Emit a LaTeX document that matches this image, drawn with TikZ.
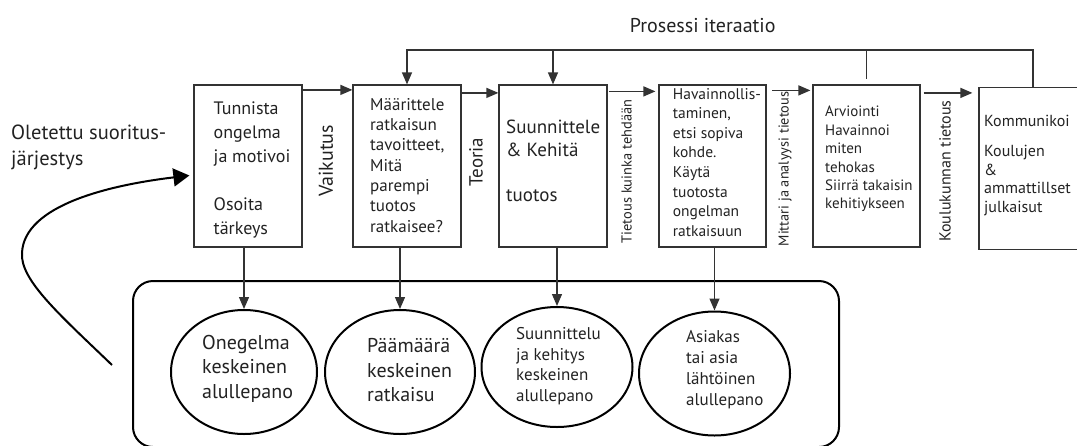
\documentclass[tikz,border=0pt]{standalone}
\usepackage{fontspec}
\setmainfont{PT Sans}
\usetikzlibrary{arrows.meta,shapes.geometric,calc}
\definecolor{ink}{HTML}{222222}
\definecolor{boxgray}{HTML}{333333}

\begin{document}
\begin{tikzpicture}[x=1pt,y=-1pt,
  box/.style={draw=boxgray, line width=1.2pt, minimum width=108pt, minimum height=162pt, inner sep=0pt},
  oval/.style={draw=black, ellipse, line width=2pt, inner sep=0pt},
  group/.style={draw=black, line width=2pt, rounded corners=20pt, inner sep=0pt},
  txt/.style={anchor=north west, align=left, inner sep=0pt, text=ink},
  lbl/.style={inner sep=0pt, text=ink},
  conn/.style={draw=boxgray, line width=1.3pt},
  arr/.style={conn, -{Triangle[length=12pt,width=10pt]}},
  bigarr/.style={draw=black, line width=2pt, -{Triangle[length=16pt,width=18pt]}}
]
\useasboundingbox (0,0) rectangle (1077,445);
\clip (0,0) rectangle (1077,445);

% grouping frame around the ellipses
\node[group, minimum width=706pt, minimum height=166pt] (grp) at (486,364) {};

% process steps
\node[box] (b1) at (248,166) {};
\node[box] (b2) at (407,166) {};
\node[box] (b3) at (553,166) {};
\node[box, minimum width=107pt] (b4) at (712.5,166) {};
\node[box, minimum width=107pt] (b5) at (866.5,166) {};
\node[box] (b6) at (1033,168.5) {};

\node[txt, font={\fontsize{18pt}{24pt}\selectfont}] (t1) at (213.5,101.5)
  {Tunnista\\ongelma\\ja motivoi\\[24pt]Osoita\\tärkeys};
\node[txt, font={\fontsize{17pt}{20.3pt}\selectfont}] (t2) at (370,98)
  {Määrittele\\ratkaisun\\tavoitteet,\\Mitä\\parempi\\tuotos\\ratkaisee?};
\node[txt, font={\fontsize{19pt}{22.5pt}\selectfont}] (t3) at (506,120)
  {Suunnittele\\\& Kehitä\\[22.5pt]tuotos};
\node[txt, font={\fontsize{15.5pt}{19.6pt}\selectfont}] (t4) at (672.7,88)
  {Havainnollis-\\taminen,\\etsi sopiva\\kohde.\\Käytä\\tuotosta\\ongelman\\ratkaisuun};
\node[txt, font={\fontsize{15pt}{18.4pt}\selectfont}] (t5) at (825,106)
  {Arviointi\\Havainnoi\\miten\\tehokas\\Siirrä takaisin\\kehitiykseen};
\node[txt, font={\fontsize{16pt}{18.5pt}\selectfont}] (t6) at (984,115)
  {Kommunikoi\\[11.8pt]Koulujen\\\&\\ammattillset\\julkaisut};

% labels between the steps
\node[lbl, rotate=90, font={\fontsize{20pt}{24pt}\selectfont}] (l12) at (326,161) {Vaikutus};
\node[lbl, rotate=90, font={\fontsize{19pt}{23pt}\selectfont}] (l23) at (476,162) {Teoria};
\node[lbl, rotate=90, font={\fontsize{14.4pt}{17pt}\selectfont}] (l34) at (626.7,171.5) {Tietous kuinka tehdään};
\node[lbl, rotate=90, font={\fontsize{14.3pt}{17pt}\selectfont}] (l45) at (785,169) {Mittari ja analyysi tietous};
\node[lbl, rotate=90, font={\fontsize{16pt}{19pt}\selectfont}] (l56) at (945,171) {Koulukunnan tietous};

% arrows from step to step
\draw[arr] ([yshift=-5.5pt]b1.north east) coordinate (s12) -- (b2.west |- s12);
\draw[arr] ([yshift=-8.5pt]b2.north east) coordinate (s23) -- (b3.west |- s23);
\draw[arr, shorten >=3pt] ([xshift=1.5pt,yshift=-7pt]b3.north east) coordinate (s34) -- (b4.west |- s34);
\draw[arr, shorten >=2pt] ([xshift=5.5pt,yshift=-6pt]b4.north east) coordinate (s45) -- (b5.west |- s45);
\draw[arr, shorten >=6pt] ([xshift=3pt,yshift=-8.5pt]b5.north east) coordinate (s56) -- (b6.west |- s56);

% iteration loop over the top
\coordinate (loop) at (0,50);
\node[lbl, font={\fontsize{20pt}{24pt}\selectfont}] (iter) at (702.7,26) {Prosessi iteraatio};
\draw[arr] (b6.north) |- (b2.north |- loop) -- (b2.north);
\draw[arr] (b3.north |- loop) -- (b3.north);
\draw[conn] (b5.north |- loop) -- ([yshift=5pt]b5.north);

% initiation points
\node[oval, minimum width=146pt, minimum height=124pt] (e1) at (244,372) {};
\node[oval, minimum width=150pt, minimum height=124pt] (e2) at (400,372) {};
\node[oval, minimum width=151pt, minimum height=120pt] (e3) at (557,367) {};
\node[oval, minimum width=151pt, minimum height=124pt] (e4) at (714.5,373.5) {};

\node[txt, font={\fontsize{20pt}{24.8pt}\selectfont}] (u1) at (202,334.6)
  {Onegelma\\keskeinen\\alullepano};
\node[txt, font={\fontsize{20pt}{24.8pt}\selectfont}] (u2) at (367,338)
  {Päämäärä\\keskeinen\\ratkaisu};
\node[txt, font={\fontsize{17pt}{20.7pt}\selectfont}] (u3) at (516,327)
  {Suunnittelu\\ja kehitys\\keskeinen\\alullepano};
\node[txt, font={\fontsize{17pt}{20.9pt}\selectfont}] (u4) at (686,330.6)
  {Asiakas\\tai asia\\lähtöinen\\alullepano};

\draw[arr] (e1.north |- b1.south) -- (e1.north);
\draw[arr] (e2.north |- b2.south) -- (e2.north);
\draw[arr] (e3.north |- b3.south) -- (e3.north);
\draw[arr] (e4.north |- b4.south) -- (e4.north);

% assumed order of execution
\node[txt, font={\fontsize{20.5pt}{26pt}\selectfont}] (ord) at (11,124.4)
  {Oletettu suoritus-\\järjestys};
\coordinate (cs) at (112,365);
\draw[bigarr] (cs) .. controls (60,315) and (20,280) .. (22,253)
  .. controls (24,205) and (110,185) .. ($(b1.west)+(-4,9.5)$);
\end{tikzpicture}
\end{document}
